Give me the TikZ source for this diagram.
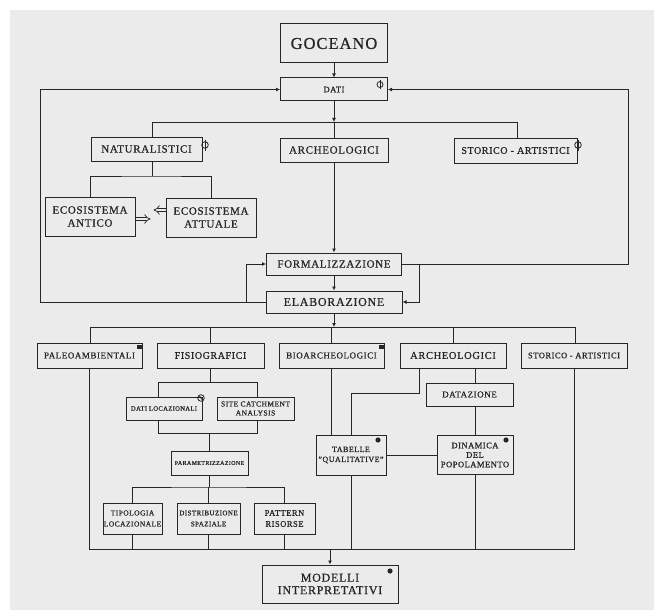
\documentclass[tikz,border=0pt]{standalone}
\usepackage{fontspec}
\setmainfont{Liberation Serif}[LetterSpace=6,FakeBold=0.8]
\usetikzlibrary{arrows.meta,calc}
\definecolor{bg}{HTML}{EBEBEB}
\definecolor{ink}{HTML}{262626}
\newcommand\fz[2]{\fontsize{#1}{#2}\selectfont}
\tikzset{
  box/.style={draw=ink, line width=1pt, inner sep=0pt, align=center, text=ink},
  ln/.style={draw=ink, line width=0.8pt},
  arr/.style={ln, -{Latex[length=4pt,width=4pt]}},
  dbl/.style={draw=ink, line width=0.7pt, double=bg, double distance=2.6pt, -{Implies}},
  icon/.style={draw=ink, line width=0.8pt},
}
\begin{document}
\begin{tikzpicture}[x=1pt,y=-1pt]
\fill[white] (0,0) rectangle (654,610);
\fill[bg] (10,10) rectangle (654,610);
\useasboundingbox (0,0) rectangle (654,610);

% ---------- upper part ----------
\node[box,font=\fz{16.5}{18},minimum width=107pt,minimum height=39pt] (goc) at (334,43.5) {GOCEANO};
\node[box,font=\fz{8.5}{10},minimum width=107pt,minimum height=23pt] (dati) at (334,89.5) {DATI};
\node[box,font=\fz{11}{13},minimum width=111pt,minimum height=24pt] (nat) at (146.5,149) {NATURALISTICI};
\node[box,font=\fz{11}{13},minimum width=108pt,minimum height=24pt] (arc1) at (334,150) {ARCHEOLOGICI};
\node[box,font=\fz{10}{12},minimum width=123pt,minimum height=25pt] (sto1) at (515.5,150.5) {STORICO - ARTISTICI};
\node[box,font=\fz{11}{13},minimum width=90pt,minimum height=39pt] (eant) at (90,216.5) {ECOSISTEMA\\ANTICO};
\node[box,font=\fz{11}{13},minimum width=90pt,minimum height=39pt] (eatt) at (211,217.5) {ECOSISTEMA\\ATTUALE};
\node[box,font=\fz{11}{13},minimum width=135pt,minimum height=22pt] (form) at (334,264) {FORMALIZZAZIONE};
\node[box,font=\fz{12}{14},minimum width=136pt,minimum height=22pt] (elab) at (334,302) {ELABORAZIONE};

% ---------- second row ----------
\node[box,font=\fz{9}{11},minimum width=105pt,minimum height=25pt] (paleo) at (89.5,355.5) {PALEOAMBIENTALI};
\node[box,font=\fz{10}{12},minimum width=107pt,minimum height=25pt] (fisio) at (210.5,355.5) {FISIOGRAFICI};
\node[box,font=\fz{9}{11},minimum width=105pt,minimum height=25pt] (bio) at (331.5,355.5) {BIOARCHEOLOGICI};
\node[box,font=\fz{10.5}{12},minimum width=106pt,minimum height=25pt] (arc2) at (453,355.5) {ARCHEOLOGICI};
\node[box,font=\fz{8.5}{10},minimum width=106pt,minimum height=25pt] (sto2) at (574,355.5) {STORICO - ARTISTICI};

% ---------- small boxes ----------
\node[box,font=\fz{6.5}{8},minimum width=76pt,minimum height=23pt] (dloc) at (164,408.5) {DATI LOCAZIONALI};
\node[box,font=\fz{7.5}{9},minimum width=77pt,minimum height=23pt] (site) at (255.5,408.5) {SITE CATCHMENT\\ANALYSIS};
\node[box,font=\fz{6}{7},minimum width=77pt,minimum height=24pt] (param) at (209.5,463) {PARAMETRIZZAZIONE};
\node[box,font=\fz{7.5}{11},minimum width=59pt,minimum height=31pt] (tipo) at (132.5,518.5) {TIPOLOGIA\\LOCAZIONALE};
\node[box,font=\fz{7}{11},minimum width=63pt,minimum height=31pt] (distr) at (208.5,518.5) {DISTRIBUZIONE\\SPAZIALE};
\node[box,font=\fz{8.5}{11},minimum width=61pt,minimum height=31pt] (patt) at (284.5,518.5) {PATTERN\\RISORSE};
\node[box,font=\fz{9}{11},minimum width=87pt,minimum height=23pt] (datz) at (469.5,394.5) {DATAZIONE};
\node[box,font=\fz{8}{10},minimum width=70pt,minimum height=40pt] (tab) at (351,455) {TABELLE\\"QUALITATIVE"};
\node[box,font=\fz{8.5}{9.5},minimum width=76pt,minimum height=39pt] (dinam) at (475,455) {DINAMICA\\DEL\\POPOLAMENTO};
\node[box,font=\fz{12}{12.5},minimum width=136pt,minimum height=38pt] (mod) at (330,584) {MODELLI\\INTERPRETATIVI};

% ---------- helper coordinates ----------
\coordinate (j1) at (334,122);
\coordinate (bL) at (152,122);
\coordinate (bR) at (517,122);
\coordinate (n1) at (152,176);
\coordinate (L) at (40,0);
\coordinate (R) at (628,0);
\coordinate (Lb) at (246,0);
\coordinate (Rb) at (419,0);
\coordinate (j2) at (334,327);
\coordinate (b2L) at (90,327);
\coordinate (b2R) at (575,327);
\coordinate (fb) at (210,382);
\coordinate (brL) at (158,382);
\coordinate (brR) at (257,382);
\coordinate (brL2) at (158,433);
\coordinate (brR2) at (257,433);
\coordinate (tb) at (0,487);
\coordinate (bb) at (0,549);
\coordinate (a2) at (419,393);
\coordinate (xd) at (475,0);

% ---------- connectors: top ----------
\draw[arr] (goc) -- (dati);
\draw[arr] (dati) -- (j1);
\draw[ln] (bL) -- (bR);
\draw[ln] (bL) -- (bL |- nat.north);
\draw[ln] (j1) -- (arc1);
\draw[ln] (bR) -- (bR |- sto1.north);
\draw[ln] (nat.south -| n1) -- (n1);
\draw[ln] (eant.north) |- (n1) -| (eatt.north);
\draw[dbl] ([yshift=-2.5pt]eant.east) -- ++(15,0);
\draw[dbl] ([yshift=7.5pt]eatt.west) -- ++(-12,0);
\draw[arr] (arc1) -- (form);
\draw[arr] (form) -- (elab);

% feedback loops
\draw[arr] (elab.west) -- (elab.west -| L) |- (dati.west);
\draw[arr] (elab.west -| Lb) |- (form.west);
\draw[arr] (form.east) -- (form.east -| R) |- (dati.east);
\draw[arr] (form.east -| Rb) |- (elab.east);

% ---------- connectors: second row ----------
\draw[arr] (elab) -- (j2);
\draw[ln] (b2L) -- (b2R);
\draw[ln] (b2L) -- (b2L |- paleo.north);
\draw[ln] (fb |- j2) -- (fb |- fisio.north);
\draw[ln] (bio.north |- j2) -- (bio.north);
\draw[ln] (arc2.north |- j2) -- (arc2.north);
\draw[ln] (b2R) -- (b2R |- sto2.north);

% fisiografici branch
\draw[ln] (fisio.south -| fb) -- (fb);
\draw[ln] (brL) -- (brR);
\draw[ln] (brL) -- (brL |- dloc.north);
\draw[ln] (brR) -- (brR |- site.north);
\draw[ln] (brL |- dloc.south) -- (brL2) -- (brR2) -- (brR |- site.south);
\draw[ln] (param.north |- brL2) -- (param.north);
\draw[ln] (param.south) -- (param.south |- tb);
\draw[ln] (tipo.north) |- (param.south |- tb) -| (patt.north);
\draw[ln] (distr.north |- tb) -- (distr.north);

% archeologici / bioarcheologici branch
\draw[ln] (bio.south) -- (bio.south |- tab.north);
\draw[ln] (arc2.south -| a2) -- (a2) -| (tab.north);
\draw[ln] (arc2.south -| xd) -- (datz.north -| xd);
\draw[ln] (datz.south -| xd) -- (dinam.north);
\draw[ln] (tab.east) -- (tab.east -| dinam.west);

% bottom collector
\draw[ln] (paleo.south) -- (paleo.south |- bb) -- (sto2.south |- bb) -- (sto2.south);
\draw[ln] (tipo.south) -- (tipo.south |- bb);
\draw[ln] (distr.south) -- (distr.south |- bb);
\draw[ln] (patt.south) -- (patt.south |- bb);
\draw[ln] (tab.south) -- (tab.south |- bb);
\draw[ln] (dinam.south) -- (dinam.south |- bb);
\draw[arr] (mod.north |- bb) -- (mod.north);

% ---------- icons ----------
\draw[icon] (380,84.5) circle (3pt);
\draw[icon] (380,80) -- (380,89);
\draw[icon] (205,145) circle (3.3pt);
\draw[icon] (205,139.5) -- (205,150.5);
\draw[icon] (578,145) circle (3.3pt);
\draw[icon] (578,139.5) -- (578,150.5);
\draw[icon] (201,398) circle (3.3pt);
\draw[icon] (199.5,396) -- (202.5,400);
\fill[ink] (137,344.5) rectangle (141.5,349);
\fill[ink] (379,344.5) rectangle (383.5,349);
\fill[ink] (378,440) circle (2.6pt);
\fill[ink] (506,440) circle (2.6pt);
\fill[ink] (390,571) circle (2.6pt);
\end{tikzpicture}
\end{document}
